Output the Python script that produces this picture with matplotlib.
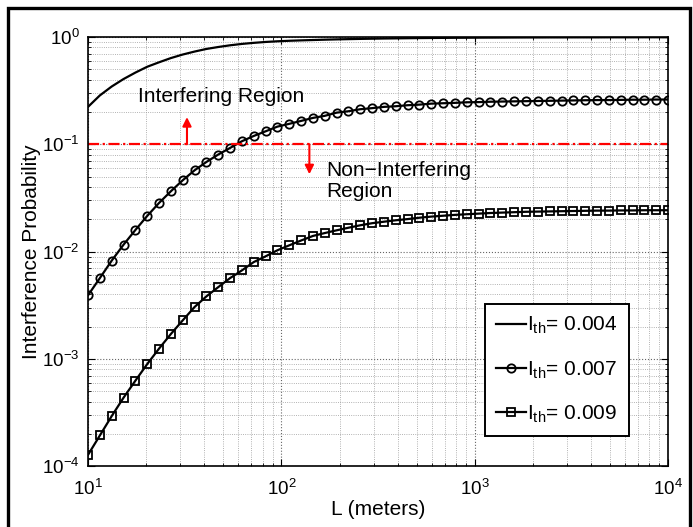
"""Interference probability vs. L for three thresholds (log-log, MATLAB look)."""

import numpy as np
import matplotlib
matplotlib.use("Agg")
import matplotlib.pyplot as plt
from matplotlib.patches import Rectangle
from matplotlib.ticker import LogLocator

plt.rcParams["font.family"] = ["Liberation Sans", "DejaVu Sans"]
plt.rcParams["mathtext.default"] = "regular"

# sample grid (50 points, log spaced 10 .. 10^4)
L = np.logspace(1, 4, 50)

# values
p_004 = [0.223, 0.285, 0.345, 0.405, 0.465, 0.527, 0.580, 0.635, 0.685, 0.730,
         0.772, 0.805, 0.835, 0.860, 0.880, 0.897, 0.910, 0.920, 0.928, 0.935,
         0.942, 0.948, 0.953, 0.958, 0.962, 0.966, 0.969, 0.972, 0.975, 0.977,
         0.979, 0.981, 0.982, 0.984, 0.985, 0.986, 0.987, 0.988, 0.988, 0.989,
         0.989, 0.990, 0.990, 0.990, 0.991, 0.991, 0.991, 0.992, 0.992, 0.992]
p_007 = [0.00392, 0.00567, 0.00824, 0.0116, 0.0159, 0.0215, 0.0284, 0.0365, 0.0462, 0.0572,
         0.0684, 0.0802, 0.0924, 0.1067, 0.1195, 0.132, 0.146, 0.155, 0.165, 0.176,
         0.184, 0.197, 0.203, 0.212, 0.217, 0.223, 0.226, 0.231, 0.234, 0.239,
         0.241, 0.243, 0.246, 0.247, 0.249, 0.250, 0.251, 0.252, 0.253, 0.254,
         0.255, 0.256, 0.257, 0.258, 0.258, 0.259, 0.260, 0.260, 0.261, 0.261]
p_009 = [1.28e-4, 1.94e-4, 2.94e-4, 4.36e-4, 6.28e-4, 8.97e-4, 1.25e-3, 1.71e-3, 2.29e-3, 3.05e-3,
         3.83e-3, 4.67e-3, 5.67e-3, 6.69e-3, 8.0e-3, 9.04e-3, 0.0103, 0.01145, 0.0127, 0.0140,
         0.0149, 0.0158, 0.0167, 0.0176, 0.0184, 0.0190, 0.0196, 0.0201, 0.0207, 0.0212,
         0.0216, 0.0220, 0.0223, 0.0226, 0.0229, 0.0231, 0.0233, 0.0235, 0.0236, 0.0237,
         0.0238, 0.0239, 0.0240, 0.0241, 0.0241, 0.0242, 0.0242, 0.0243, 0.0243, 0.0243]
labels = [r"$I_{th}$= 0.004", r"$I_{th}$= 0.007", r"$I_{th}$= 0.009"]
threshold = 0.1


fig = plt.figure(figsize=(6.93, 5.27), dpi=100)
ax = fig.add_axes([0.127, 0.115, 0.837, 0.815])

ax.loglog(L, p_004, "-", color="k", lw=1.6, label=labels[0])
ax.loglog(L, p_007, "-o", color="k", lw=1.6, ms=6, mew=1.3, mfc="none", label=labels[1])
ax.loglog(L, p_009, "-s", color="k", lw=1.6, ms=5.2, mew=1.3, mfc="none", label=labels[2])

ax.axhline(threshold, color="red", lw=1.6, ls=(0, (5, 1.6, 1, 1.6)))

# region arrows + text
for xa, ya in [(32.5, 0.179), (139.6, 0.0526)]:
    ax.annotate("", xy=(xa, ya), xytext=(xa, threshold),
                arrowprops=dict(arrowstyle="-|>", color="red", lw=1.5,
                                mutation_scale=13, shrinkA=0, shrinkB=0))
ax.text(18.2, 0.246, "Interfering Region", fontsize=15, va="baseline", ha="left")
ax.text(170, 0.0692, "Non\u2212Interfering\nRegion", fontsize=15, va="top", ha="left",
        linespacing=1.1)

ax.set_xlim(10, 1e4)
ax.set_ylim(1e-4, 1)
ax.xaxis.set_major_locator(LogLocator(base=10, numticks=10))
ax.yaxis.set_major_locator(LogLocator(base=10, numticks=10))
ax.xaxis.set_minor_locator(LogLocator(base=10, subs=np.arange(2, 10), numticks=20))
ax.yaxis.set_minor_locator(LogLocator(base=10, subs=np.arange(2, 10), numticks=20))

ax.grid(True, which="major", ls=":", lw=0.8, color="0.4")
ax.grid(True, which="minor", ls=":", lw=0.6, color="0.6")
ax.tick_params(which="both", direction="in", top=True, right=True, labelsize=13.5)
ax.tick_params(which="major", length=5, width=0.8)
ax.tick_params(which="minor", length=2.5, width=0.6)
ax.tick_params(axis="x", which="major", pad=9)
ax.tick_params(axis="y", which="major", pad=6)
for s in ax.spines.values():
    s.set_linewidth(1.2)

ax.set_xlabel("L (meters)", fontsize=15, labelpad=1)
ax.set_ylabel("Interference Probability", fontsize=15, labelpad=1)

leg = ax.legend(loc="lower right", bbox_to_anchor=(0.933, 0.07), fontsize=15,
                handlelength=1.45, handletextpad=0.05, labelspacing=1.1,
                borderpad=0.55, borderaxespad=0, fancybox=False, framealpha=1)
leg.get_frame().set_edgecolor("k")
leg.get_frame().set_linewidth(1.4)

# outer page frame
fig.patches.append(Rectangle((7.5 / 693, -0.05), (690 - 7.5) / 693, 1.05 - 8 / 527,
                             transform=fig.transFigure, fill=False, ec="k", lw=2.4))

fig.savefig("out.png", dpi=100)
